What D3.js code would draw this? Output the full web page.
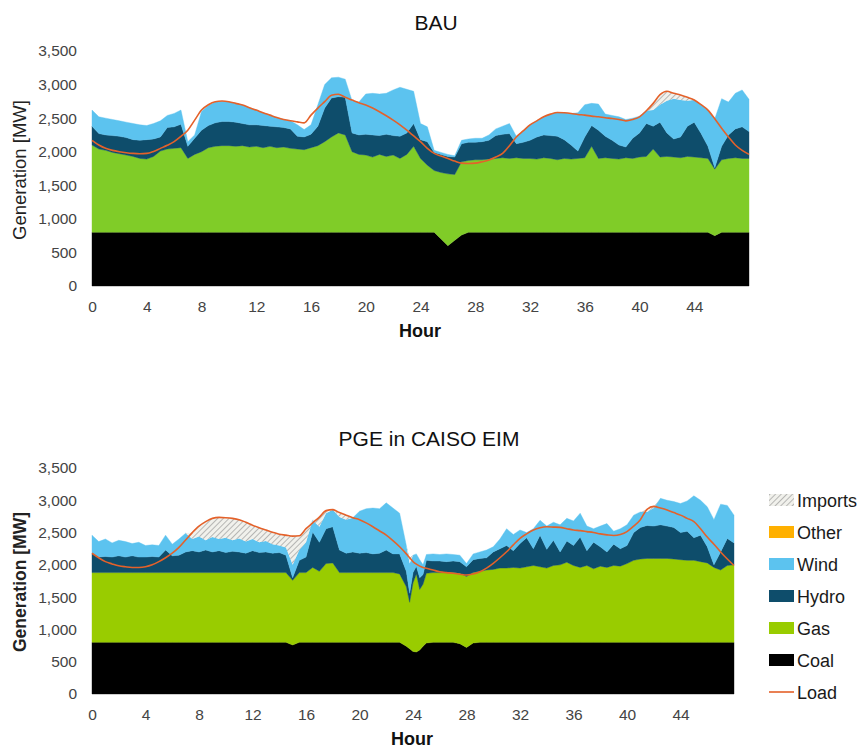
<!DOCTYPE html>
<html>
<head>
<meta charset="utf-8">
<script src="https://cdn.jsdelivr.net/npm/d3@7"></script>
<style>
  html, body { margin: 0; padding: 0; background: #fff; }
  svg { display: block; font-family: "Liberation Sans", Arial, sans-serif; }
</style>
</head>
<body>
<script>
// ---------------- DATA ----------------
const xTicks = [0, 4, 8, 12, 16, 20, 24, 28, 32, 36, 40, 44];
const yTicks = [0, 500, 1000, 1500, 2000, 2500, 3000, 3500];
const legendItems = ["Imports", "Other", "Wind", "Hydro", "Gas", "Coal", "Load"];

// BAU : half-hour steps 0 .. 48
const bauHours = [0,0.5,1,1.5,2,2.5,3,3.5,4,4.5,5,5.5,6,6.5,7,7.5,8,8.5,9,9.5,
  10,10.5,11,11.5,12,12.5,13,13.5,14,14.5,15,15.5,16,16.5,17,17.5,18,18.5,19,19.5,
  20,20.5,21,21.5,22,22.5,23,23.5,24,24.5,25,25.5,26,26.5,27,27.5,28,28.5,29,29.5,
  30,30.5,31,31.5,32,32.5,33,33.5,34,34.5,35,35.5,36,36.5,37,37.5,38,38.5,39,39.5,
  40,40.5,41,41.5,42,42.5,43,43.5,44,44.5,45,45.5,46,46.5,47,47.5,48];
const bauCoal = [800,800,800,800,800,800,800,800,800,800,800,800,800,800,800,800,800,800,800,800,
  800,800,800,800,800,800,800,800,800,800,800,800,800,800,800,800,800,800,800,800,
  800,800,800,800,800,800,800,800,800,800,800,700,600,680,760,800,800,800,800,800,
  800,800,800,800,800,800,800,800,800,800,800,800,800,800,800,800,800,800,800,800,
  800,800,800,800,800,800,800,800,800,800,800,750,800,800,800,800,800];
const bauGas = [1300,1240,1220,1190,1170,1150,1130,1100,1090,1130,
  1210,1240,1250,1260,1100,1160,1200,1260,1280,1290,
  1290,1280,1290,1270,1280,1260,1280,1260,1270,1250,
  1240,1230,1260,1290,1350,1420,1480,1450,1200,1160,
  1150,1120,1160,1130,1150,1100,1160,1280,1100,1000,
  920,990,1070,980,1090,1070,1080,1080,1090,1100,
  1110,1100,1110,1100,1100,1090,1110,1100,1080,1100,
  1090,1100,1110,1280,1100,1110,1100,1090,1110,1100,
  1120,1130,1240,1120,1130,1120,1110,1130,1120,1110,
  1100,990,1080,1100,1110,1100,1100];
const bauHydro = [280,230,230,250,260,260,250,270,290,260,
  210,320,320,350,180,240,320,330,350,360,
  360,360,330,330,320,330,300,310,290,290,
  190,190,200,290,500,580,540,560,280,290,
  310,330,280,330,290,330,320,340,280,350,
  270,270,260,260,270,270,260,270,280,340,
  350,370,210,240,270,330,340,340,350,280,
  210,110,310,310,420,320,270,210,160,300,
  360,490,340,520,350,270,310,450,520,360,
  180,20,200,350,430,470,400];
const bauWind = [240,250,250,240,230,230,240,230,210,230,
  240,180,200,210,70,50,280,300,310,300,
  295,280,275,255,220,190,165,140,120,120,
  170,110,140,320,350,300,290,270,480,490,
  600,620,620,610,680,730,650,480,240,220,
  30,30,30,20,50,50,60,50,80,100,
  120,150,110,170,230,240,270,320,355,400,
  470,570,480,330,390,330,370,420,410,300,
  250,190,240,260,480,600,550,380,330,430,
  540,730,710,490,530,550,480];
const bauImports = [0,0,0,0,0,0,0,0,0,0,0,0,0,0,0,0,0,0,0,0,
  0,0,0,0,0,0,0,0,0,0,0,0,0,0,0,0,0,0,0,0,
  0,0,0,0,0,0,0,0,0,0,0,0,0,0,0,0,0,0,0,0,
  0,0,0,0,0,0,0,0,0,0,0,0,0,0,0,0,0,0,0,0,
  0,0,100,150,140,80,75,50,0,0,0,0,0,0,0,0,0];
const bauLoad = [2170,2100,2050,2020,2000,1985,1975,1970,1975,2005,
  2050,2095,2150,2230,2320,2470,2620,2700,2745,2755,
  2745,2720,2695,2655,2620,2580,2545,2510,2480,2460,
  2445,2430,2545,2650,2745,2840,2855,2810,2770,2730,
  2695,2650,2595,2535,2470,2400,2320,2235,2150,2050,
  1975,1935,1900,1860,1830,1825,1830,1850,1875,1920,
  1975,2090,2220,2310,2400,2460,2520,2560,2585,2580,
  2570,2555,2545,2530,2520,2505,2495,2480,2460,2480,
  2520,2610,2720,2850,2900,2870,2845,2810,2770,2700,
  2620,2490,2350,2220,2100,2020,1960];

// PGE in CAISO EIM : half-hour steps, finer around hour 24
const pgeHours = [0,0.5,1,1.5,2,2.5,3,3.5,4,4.5,5,5.5,6,6.5,7,7.5,8,8.5,9,9.5,
  10,10.5,11,11.5,12,12.5,13,13.5,14,14.5,15,15.5,16,16.5,17,17.5,18,18.5,19,19.5,
  20,20.5,21,21.5,22,22.5,23,23.5,23.75,24,24.25,24.5,24.75,25,
  25.5,26,26.5,27,27.5,28,28.5,29,29.5,
  30,30.5,31,31.5,32,32.5,33,33.5,34,34.5,35,35.5,36,36.5,37,37.5,38,38.5,39,39.5,
  40,40.5,41,41.5,42,42.5,43,43.5,44,44.5,45,45.5,46,46.5,47,47.5,48];
const pgeCoal = [800,800,800,800,800,800,800,800,800,800,800,800,800,800,800,800,800,800,800,800,
  800,800,800,800,800,800,800,800,800,800,760,800,800,800,800,800,800,800,800,800,
  800,800,800,800,800,800,800,740,700,660,650,680,740,790,
  800,800,800,800,780,720,790,800,800,
  800,800,800,800,800,800,800,800,800,800,800,800,800,800,800,800,800,800,800,800,
  800,800,800,800,800,800,800,800,800,800,800,800,800,800,800,800,800];
const pgeGas = [1080,1080,1080,1080,1080,1080,1080,1080,1080,1080,
  1080,1080,1080,1080,1080,1080,1080,1080,1080,1080,
  1080,1080,1080,1080,1080,1080,1080,1080,1080,1080,
  1000,1080,1080,1160,1100,1220,1230,1080,1080,1080,
  1080,1080,1080,1080,1080,1080,1060,920,720,1060,1210,940,960,1080,
  1080,1080,1080,1080,1090,1100,1090,1100,1120,
  1130,1150,1150,1160,1150,1170,1190,1170,1150,1190,
  1200,1240,1190,1160,1190,1140,1180,1160,1190,1180,
  1220,1270,1290,1300,1300,1300,1300,1290,1280,1270,
  1270,1250,1230,1160,1120,1190,1200];
const pgeHydro = [300,240,250,240,260,240,260,240,240,250,
  240,350,260,270,320,340,320,350,320,340,
  310,330,320,300,340,310,320,300,310,270,
  40,190,240,550,450,540,560,350,300,320,
  300,310,290,300,350,290,310,240,140,160,120,180,150,200,
  180,180,170,180,180,150,200,200,190,
  270,300,350,260,380,450,260,490,290,390,
  200,330,310,470,230,410,300,240,330,270,
  280,430,490,510,500,520,500,490,420,450,
  350,410,250,40,280,420,340];
const pgeWind = [280,240,270,220,240,240,190,230,180,180,
  180,230,180,250,290,180,240,150,230,180,
  230,170,210,180,180,160,170,140,110,120,
  200,160,230,180,240,240,265,510,520,530,
  650,680,710,690,730,710,630,400,460,270,190,280,150,90,
  110,100,120,100,100,50,90,100,120,
  80,150,260,250,210,80,310,230,360,280,
  420,350,380,370,380,210,320,440,200,310,
  320,270,240,210,280,410,400,400,450,470,
  650,540,620,700,740,510,430];
const pgeImports = [0,0,0,0,0,0,0,0,0,0,0,0,0,0,0,
  100,160,290,290,335,310,340,290,300,215,225,170,185,175,190,
  445,220,210,0,150,40,0,70,70,0,
  0,0,0,0,0,0,0,0,90,0,0,0,0,0,
  0,0,0,0,0,0,0,0,0,
  0,0,0,0,0,0,0,0,0,0,0,0,0,0,0,0,0,0,0,0,
  0,0,0,40,25,0,0,0,0,0,0,0,0,0,0,0,0];
const pgeLoad = [2180,2110,2050,2015,1985,1970,1960,1960,1970,2000,
  2050,2110,2180,2270,2385,2500,2600,2670,2720,2735,
  2730,2720,2700,2660,2615,2575,2540,2505,2475,2460,
  2445,2450,2560,2650,2740,2840,2855,2810,2770,2730,
  2700,2650,2590,2525,2460,2375,2280,2170,2110,2050,2010,1980,1960,1946,
  1920,1894,1880,1870,1855,1842,1860,1894,1950,
  2023,2110,2203,2310,2410,2480,2540,2575,2590,2585,
  2580,2560,2540,2530,2515,2500,2480,2465,2455,2470,
  2515,2600,2700,2860,2905,2880,2850,2810,2770,2720,
  2670,2560,2430,2320,2200,2090,1990];

// ---------------- STYLE ----------------
const COLORS = {
  coal: "#000000",
  hydro: "#0e4d6b",
  wind: "#5cc3ef",
  other: "#ffb000",
  load: "#e4612a"
};

const svg = d3.select("body").append("svg")
  .attr("width", 862).attr("height", 750);
svg.append("rect").attr("width", 862).attr("height", 750).attr("fill", "#fff");

const defs = svg.append("defs");
const pat = defs.append("pattern").attr("id", "hatch")
  .attr("patternUnits", "userSpaceOnUse").attr("width", 4).attr("height", 4)
  .attr("patternTransform", "rotate(45)");
pat.append("rect").attr("width", 4).attr("height", 4).attr("fill", "#f1f1ec");
pat.append("line").attr("x1", 0).attr("y1", 0).attr("x2", 0).attr("y2", 4)
  .attr("stroke", "#8e8e8e").attr("stroke-width", 1.2);

function drawChart(cfg) {
  const x = d3.scaleLinear().domain([0, 48]).range(cfg.xRange);
  const y = d3.scaleLinear().domain([0, 3500]).range(cfg.yRange);
  const rows = cfg.hours.map((h, i) => ({
    h, coal: cfg.coal[i], gas: cfg.gas[i], hydro: cfg.hydro[i],
    wind: cfg.wind[i], imports: cfg.imports[i], load: cfg.load[i]
  }));
  const keys = ["coal", "gas", "hydro", "wind", "imports"];
  const series = d3.stack().keys(keys)(rows);
  const fills = {
    coal: COLORS.coal, gas: cfg.gasColor, hydro: COLORS.hydro,
    wind: COLORS.wind, imports: "url(#hatch)"
  };
  const area = d3.area()
    .x(d => x(d.data.h)).y0(d => y(d[0])).y1(d => y(d[1]));
  const g = svg.append("g");
  g.selectAll("path.layer").data(series).join("path")
    .attr("class", "layer")
    .attr("d", area)
    .attr("fill", s => fills[s.key])
    .attr("stroke", s => s.key === "imports" ? "none" : fills[s.key])
    .attr("stroke-width", 0.4);

  const line = d3.line().x(d => x(d.h)).y(d => y(d.load)).curve(d3.curveMonotoneX);
  g.append("path").datum(rows).attr("d", line)
    .attr("fill", "none").attr("stroke", COLORS.load).attr("stroke-width", 1.6);

  const ya = g.append("g")
    .attr("transform", `translate(${cfg.xRange[0]},0)`)
    .call(d3.axisLeft(y).tickValues(yTicks).tickFormat(d3.format(",")).tickSize(0).tickPadding(15));
  ya.select(".domain").remove();
  ya.selectAll("text").attr("font-size", 15.5).attr("fill", "#444")
    .attr("font-family", "'Liberation Sans', Arial, sans-serif");

  const xa = g.append("g")
    .attr("transform", `translate(0,${cfg.yRange[0]})`)
    .call(d3.axisBottom(x).tickValues(xTicks).tickSize(0).tickPadding(15));
  xa.select(".domain").remove();
  xa.selectAll("text").attr("font-size", 15.5).attr("fill", "#444")
    .attr("font-family", "'Liberation Sans', Arial, sans-serif");

  svg.append("text").text(cfg.title)
    .attr("x", cfg.titleX).attr("y", cfg.titleY)
    .attr("text-anchor", "middle").attr("font-size", 21).attr("fill", "#111");

  svg.append("text").text("Hour")
    .attr("x", cfg.hourX).attr("y", cfg.hourY)
    .attr("text-anchor", "middle").attr("font-size", 18)
    .attr("font-weight", "bold").attr("fill", "#111");

  svg.append("text").text("Generation [MW]")
    .attr("transform", `translate(${cfg.yLabX},${cfg.yLabY}) rotate(-90)`)
    .attr("text-anchor", "middle").attr("font-size", cfg.yLabBold ? 17.5 : 18.5)
    .attr("font-weight", cfg.yLabBold ? "bold" : "normal").attr("fill", "#222");
}

drawChart({
  hours: bauHours, coal: bauCoal, gas: bauGas, hydro: bauHydro, wind: bauWind,
  imports: bauImports, load: bauLoad, gasColor: "#80cc28",
  xRange: [92, 749], yRange: [286, 51],
  title: "BAU", titleX: 436, titleY: 30,
  hourX: 420, hourY: 337,
  yLabX: 26, yLabY: 170, yLabBold: false
});

drawChart({
  hours: pgeHours, coal: pgeCoal, gas: pgeGas, hydro: pgeHydro, wind: pgeWind,
  imports: pgeImports, load: pgeLoad, gasColor: "#99cc00",
  xRange: [92, 734], yRange: [694, 468],
  title: "PGE in CAISO EIM", titleX: 429, titleY: 446,
  hourX: 412, hourY: 745,
  yLabX: 26, yLabY: 582, yLabBold: true
});

// Legend
const legendFill = {
  Imports: "url(#hatch)", Other: COLORS.other, Wind: COLORS.wind,
  Hydro: COLORS.hydro, Gas: "#99cc00", Coal: COLORS.coal
};
const lg = svg.append("g").attr("transform", "translate(769,500)");
legendItems.forEach((name, i) => {
  const row = lg.append("g").attr("transform", `translate(0,${i * 32})`);
  if (name === "Load") {
    row.append("line").attr("x1", 0).attr("x2", 25).attr("y1", 0).attr("y2", 0)
      .attr("stroke", COLORS.load).attr("stroke-width", 1.6);
  } else {
    row.append("rect").attr("x", 0).attr("y", -6).attr("width", 25).attr("height", 12)
      .attr("fill", legendFill[name]);
  }
  row.append("text").text(name).attr("x", 28).attr("y", 6.5)
    .attr("font-size", 18).attr("fill", "#1a1a1a");
});
</script>
</body>
</html>
